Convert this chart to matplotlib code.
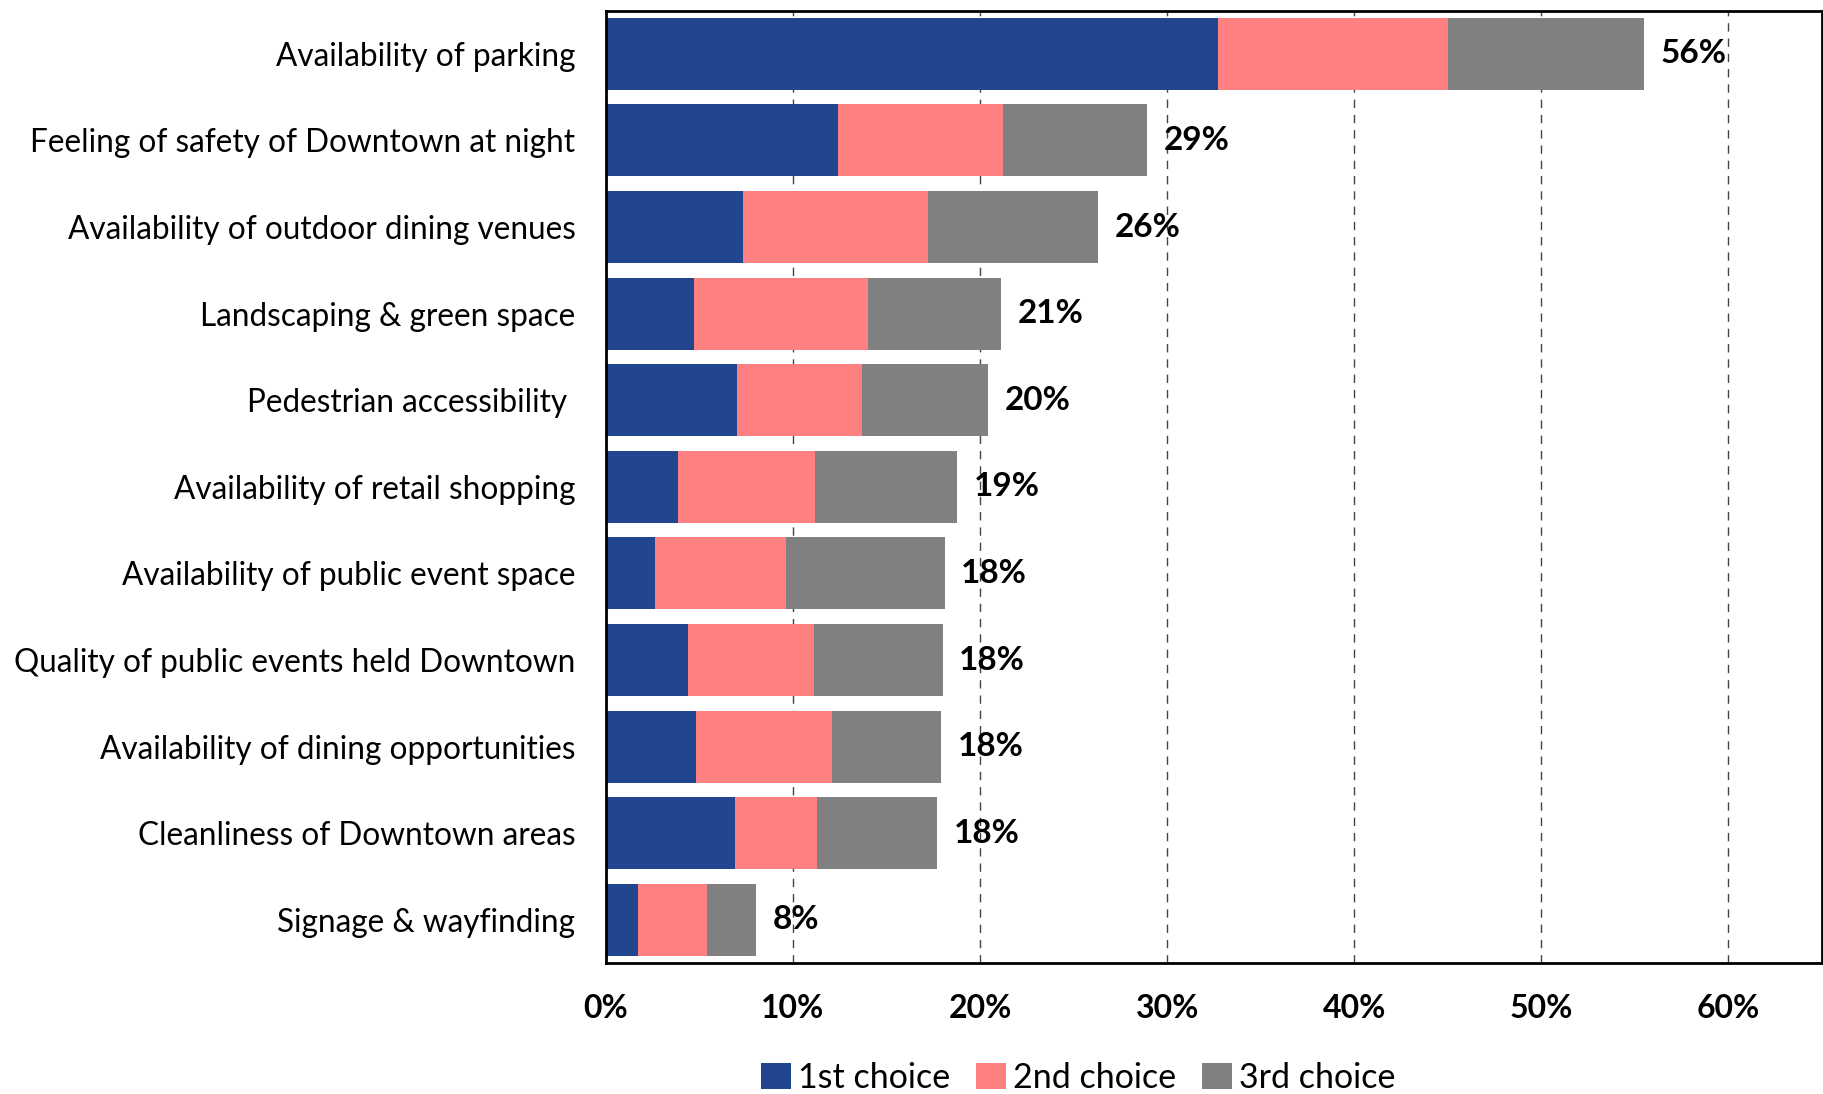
import numpy as np
import matplotlib.pyplot as plt
from matplotlib.ticker import FuncFormatter

# Survey categories, top to bottom
categories = [
    "Availability of parking",
    "Feeling of safety of Downtown at night",
    "Availability of outdoor dining venues",
    "Landscaping & green space",
    "Pedestrian accessibility ",
    "Availability of retail shopping",
    "Availability of public event space",
    "Quality of public events held Downtown",
    "Availability of dining opportunities",
    "Cleanliness of Downtown areas",
    "Signage & wayfinding",
]

# share of respondents (%) ranking each item 1st / 2nd / 3rd
first = [32.7, 12.4, 7.3, 4.7, 7.0, 3.85, 2.6, 4.4, 4.8, 6.9, 1.7]
second = [12.3, 8.8, 9.9, 9.3, 6.7, 7.3, 7.0, 6.7, 7.3, 4.4, 3.7]
third = [10.5, 7.7, 9.1, 7.1, 6.7, 7.6, 8.5, 6.9, 5.8, 6.4, 2.6]

series_names = ["1st choice", "2nd choice", "3rd choice"]
colors = ["#21468F", "#FF8080", "#808080"]

plt.rcParams['font.family'] = ['Lato', 'DejaVu Sans']

fig = plt.figure(figsize=(18.24, 10.94), dpi=100)
ax = fig.add_axes([0.3322, 0.1196, 0.6667, 0.8708])

y = np.arange(len(categories))
left = np.zeros(len(categories))
for vals, name, col in zip([first, second, third], series_names, colors):
    ax.barh(y, vals, left=left, height=0.83, color=col, label=name, zorder=2)
    left = left + np.array(vals)

# total label at the end of each bar
for yi, tot in zip(y, left):
    ax.annotate(f"{tot:.0f}%", (tot, yi), xytext=(12, 0), textcoords="offset points",
                ha="left", va="center", fontsize=24, fontweight="bold", zorder=3)

ax.set_ylim(len(categories) - 0.5, -0.5)
ax.set_xlim(0, 65)
ax.set_xticks(np.arange(0, 61, 10))
ax.xaxis.set_major_formatter(FuncFormatter(lambda v, p: f"{v:.0f}%"))
ax.set_yticks(y)
ax.set_yticklabels(categories, fontsize=22.7)

ax.tick_params(axis="x", length=0, pad=22, labelsize=23)
ax.tick_params(axis="y", length=0, pad=22)
for lab in ax.get_xticklabels():
    lab.set_fontweight("bold")

ax.grid(axis="x", color="#444444", linestyle=(0, (6, 5)), linewidth=1.0, zorder=0)
ax.set_axisbelow(True)
for sp in ax.spines.values():
    sp.set_linewidth(2.0)
    sp.set_color("black")

fig.legend(loc="center", bbox_to_anchor=(0.591, 0.0146), ncol=3, frameon=False,
           fontsize=24.5, handlelength=0.9, handleheight=0.8, handletextpad=0.2,
           columnspacing=0.75, borderaxespad=0)

fig.savefig("out.png", dpi=100)
